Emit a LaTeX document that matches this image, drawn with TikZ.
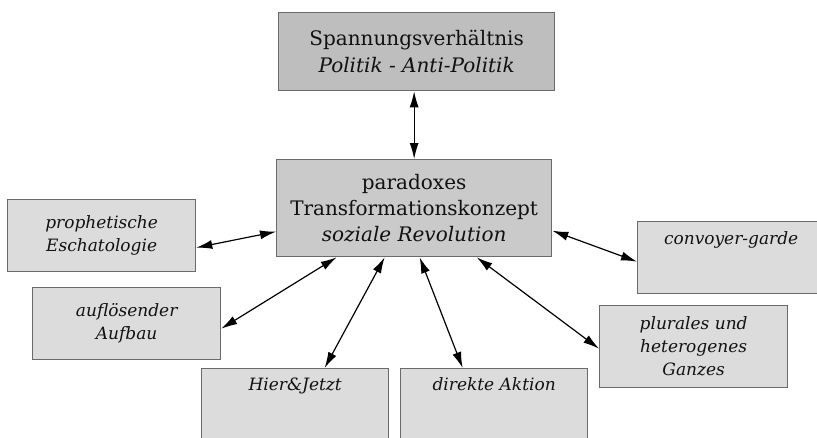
\documentclass[tikz,border=0pt]{standalone}
\usepackage{fontspec}
\setmainfont{DejaVu Serif}
\usetikzlibrary{arrows.meta}
\definecolor{boxline}{HTML}{6A6A6A}
\definecolor{topgray}{HTML}{BEBEBE}
\definecolor{maingray}{HTML}{CACACA}
\definecolor{sidegray}{HTML}{DCDCDC}
\definecolor{ink}{HTML}{111111}

\begin{document}
\begin{tikzpicture}[
    x=1pt, y=-1pt,
    box/.style={rectangle, draw=boxline, line width=1.3pt, anchor=north west, inner sep=4pt, align=center, text=ink},
    topbox/.style={box, fill=topgray, font=\fontsize{20}{27}\selectfont},
    mainbox/.style={box, fill=maingray, font=\fontsize{20}{26}\selectfont},
    sidebox/.style={box, fill=sidegray, font=\fontsize{17}{23}\selectfont\itshape},
    arrow/.style={<->, >={Latex[length=16pt,width=9pt]}, line width=1.2pt}
]
\clip (0,0) rectangle (817,437);
\fill[white] (0,0) rectangle (817,437);

% Top - tension field
\node[topbox, minimum width=276pt, minimum height=78pt] (tension) at (278,12) {Spannungsverhältnis\\
\textit{Politik - Anti-Politik}};

% Centre - transformation concept
\node[mainbox, minimum width=275pt, minimum height=97pt] (concept) at (276,159) {paradoxes\\
Transformationskonzept\\
\textit{soziale Revolution}};

% Left side
\node[sidebox, minimum width=188pt, minimum height=72pt] (prophecy) at (7,199) {prophetische\\
Eschatologie};

\node[sidebox, minimum width=188pt, minimum height=72pt] (dissolve) at (32,287) {auflösender\\
Aufbau};

% Bottom row
\node[sidebox, minimum width=187pt, text height=17.5pt, text depth=60pt] (herenow) at (201,368) {Hier\&Jetzt};

\node[sidebox, minimum width=187pt, text height=17.5pt, text depth=60pt] (direct) at (400,368) {direkte Aktion};

% Right side
\node[sidebox, minimum width=187pt, text height=18.5pt, text depth=45.5pt] (convoy) at (637,221) {convoyer-garde};

\node[sidebox, minimum width=188pt, minimum height=82pt] (plural) at (599,305) {plurales und\\
heterogenes\\
Ganzes};

% Connections
\draw[arrow] (concept.north |- tension.south) -- (concept.north);
\draw[arrow] ([yshift=-12pt]prophecy.east) -- ([yshift=-23.5pt]concept.west);
\draw[arrow] ([yshift=-5pt]dissolve.east) -- ([xshift=-77.5pt]concept.south);
\draw[arrow] ([xshift=29.5pt]herenow.north) -- ([xshift=-29.5pt]concept.south);
\draw[arrow] ([xshift=-31.5pt]direct.north) -- ([xshift=5.5pt]concept.south);
\draw[arrow] ([yshift=-2pt]plural.west) -- ([xshift=62.5pt]concept.south);
\draw[arrow] ([yshift=-4pt]convoy.west) -- ([yshift=-22.5pt]concept.east);

\end{tikzpicture}
\end{document}
